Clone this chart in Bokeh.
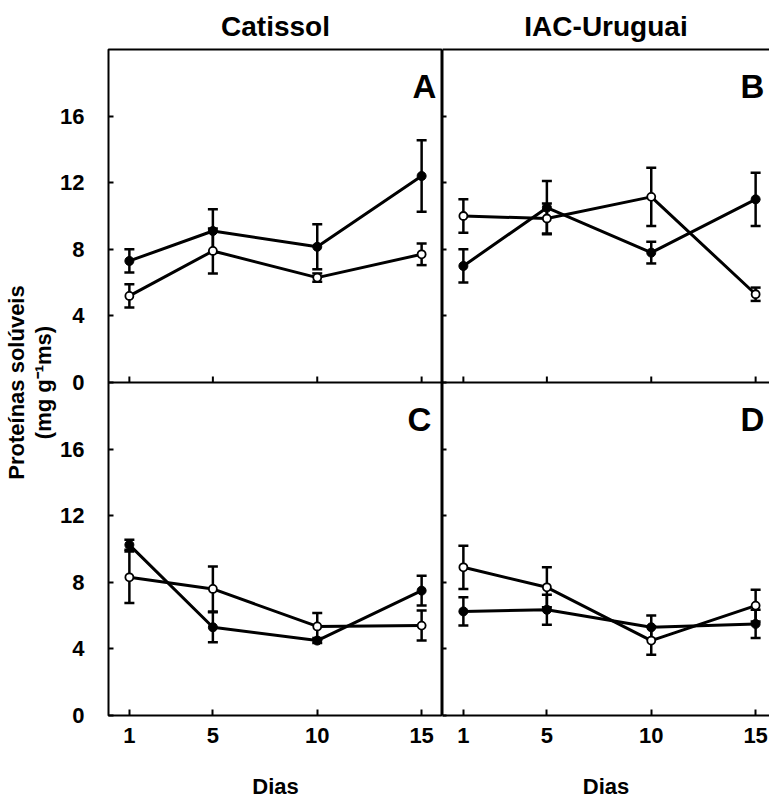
from bokeh.plotting import figure
from bokeh.models import (Range1d, ColumnDataSource, Whisker, TeeHead, Label,
                          LinearAxis, FixedTicker, Title, Span)
from bokeh.layouts import gridplot
from bokeh.embed import file_html
from bokeh.resources import INLINE

# ---------------- data ----------------
days = [1, 5, 10, 15]
x_ticks = [1, 5, 10, 15]
y_ticks = [0, 4, 8, 12, 16]
cultivars = ["Catissol", "IAC-Uruguai"]
panel_letters = ["A", "B", "C", "D"]
y_label = "Proteínas solúveis\n(mg g\u207b\u00b9ms)"
x_label = "Dias"

# Panel A (Catissol, top)
a_closed = [7.3, 9.1, 8.15, 12.4]
a_closed_err = [0.7, 1.3, 1.35, 2.15]
a_open = [5.2, 7.9, 6.3, 7.7]
a_open_err = [0.7, 1.35, 0.25, 0.65]
# Panel B (IAC-Uruguai, top)
b_closed = [7.0, 10.5, 7.8, 11.0]
b_closed_err = [1.0, 1.6, 0.65, 1.6]
b_open = [10.0, 9.85, 11.15, 5.3]
b_open_err = [1.0, 0.9, 1.75, 0.4]
# Panel C (Catissol, bottom)
c_closed = [10.25, 5.3, 4.5, 7.5]
c_closed_err = [0.3, 0.9, 0.15, 0.9]
c_open = [8.3, 7.6, 5.35, 5.4]
c_open_err = [1.55, 1.35, 0.8, 0.9]
# Panel D (IAC-Uruguai, bottom)
d_closed = [6.25, 6.35, 5.3, 5.5]
d_closed_err = [0.85, 0.9, 0.7, 0.85]
d_open = [8.9, 7.7, 4.5, 6.6]
d_open_err = [1.3, 1.2, 0.85, 0.95]

# ---------------- layout constants ----------------
FONT = "Liberation Sans"
FW_L, FW_R, FH = 334, 327, 666
LEFT_B, TOP_B, BOT_B = 99, 41, 85
PANEL_Y = 20            # height of one panel in data units
X_MAX_L = 16
X_MAX_R = 16 * FW_R / FW_L

# one column = two stacked panels; the top panel uses its own range "top"
col_ticks = y_ticks + [t + PANEL_Y for t in y_ticks]
col_labels = {t: str(t) for t in y_ticks}
col_labels.update({t + PANEL_Y: str(t) for t in y_ticks})


def base_axis(axis, ticks, tick_in):
    axis.ticker = FixedTicker(ticks=ticks)
    axis.major_tick_in = tick_in
    axis.major_tick_out = 0
    axis.minor_tick_in = 0
    axis.minor_tick_out = 0
    axis.major_tick_line_width = 2
    axis.major_tick_line_color = "black"
    axis.axis_line_width = 2
    axis.axis_line_color = "black"
    return axis


def hide_labels(axis):
    axis.major_label_text_font_size = "0px"
    axis.major_label_standoff = 0
    axis.major_label_overrides = {t: "" for t in axis.ticker.ticks}
    return axis


def show_labels(axis, standoff):
    axis.major_label_text_font = FONT
    axis.major_label_text_font_style = "bold"
    axis.major_label_text_font_size = "22px"
    axis.major_label_text_color = "black"
    axis.major_label_standoff = standoff
    return axis


def draw_series(p, vals, errs, rng):
    src = ColumnDataSource(dict(x=days, y=vals,
                                lo=[v - e for v, e in zip(vals, errs)],
                                hi=[v + e for v, e in zip(vals, errs)]))
    p.line("x", "y", source=src, line_color="black", line_width=3, y_range_name=rng)
    p.add_layout(Whisker(base="x", lower="lo", upper="hi", source=src,
                         y_range_name=rng, line_color="black", line_width=2.5,
                         upper_head=TeeHead(size=10, line_color="black", line_width=2.5),
                         lower_head=TeeHead(size=10, line_color="black", line_width=2.5)))
    return src


def make_column(col, top_data, bottom_data, letters_x):
    xmax = X_MAX_L if col == 0 else X_MAX_R
    p = figure(frame_width=FW_L if col == 0 else FW_R, frame_height=FH,
               x_range=Range1d(0, xmax), y_range=Range1d(0, 2 * PANEL_Y),
               x_axis_location=None, y_axis_location=None,
               toolbar_location=None, output_backend="svg",
               min_border_left=LEFT_B if col == 0 else 0, min_border_right=0,
               min_border_top=TOP_B, min_border_bottom=BOT_B,
               background_fill_color="white", border_fill_color="white")
    p.extra_y_ranges = {"top": Range1d(-PANEL_Y, PANEL_Y)}
    p.xgrid.visible = False
    p.ygrid.visible = False
    p.outline_line_color = "black" if col == 0 else None
    p.outline_line_width = 2

    # y axis (both panels)
    yax = base_axis(LinearAxis(), col_ticks, 5 if col == 0 else 4)
    if col == 0:
        show_labels(yax, 24)
        yax.major_label_text_align = "right"
        yax.major_label_overrides = col_labels
        yax.axis_line_color = None
        yax.axis_label = y_label
        yax.axis_label_text_font = FONT
        yax.axis_label_text_font_style = "bold"
        yax.axis_label_text_font_size = "22px"
        yax.axis_label_text_line_height = 1.1
        yax.axis_label_text_color = "black"
        yax.axis_label_standoff = 1
    else:
        hide_labels(yax)
    p.add_layout(yax, "left")

    # bottom x axis
    xax = show_labels(base_axis(LinearAxis(), x_ticks, 6), 12)
    xax.axis_line_color = "black" if col == 1 else None
    xax.axis_label = x_label
    xax.axis_label_text_font = FONT
    xax.axis_label_text_font_style = "bold"
    xax.axis_label_text_font_size = "22px"
    xax.axis_label_text_color = "black"
    xax.axis_label_standoff = 28
    p.add_layout(xax, "below")

    if col == 1:
        top_ax = hide_labels(base_axis(LinearAxis(), [], 0))
        p.add_layout(top_ax, "above")

    # line between the two panels, with the top panel's inward ticks
    p.add_layout(Span(location=0, dimension="width", y_range_name="top",
                      line_color="black", line_width=2))
    p.segment(x0=x_ticks, x1=x_ticks, y0=[0] * len(x_ticks),
              y1=[0.36] * len(x_ticks), y_range_name="top",
              line_color="black", line_width=2)

    p.add_layout(Title(text=cultivars[col], align="center", text_font=FONT,
                       text_font_style="bold", text_font_size="28px",
                       text_color="black", standoff=16,
                       offset=(4 if col == 1 else 0)), "above")

    for (closed, closed_err, opn, opn_err), rng, letter, lx in (
            (top_data, "top", letters_x[0][0], letters_x[0][1]),
            (bottom_data, "default", letters_x[1][0], letters_x[1][1])):
        sc = draw_series(p, closed, closed_err, rng)
        so = draw_series(p, opn, opn_err, rng)
        p.scatter("x", "y", source=sc, size=9, fill_color="black",
                  line_color="black", line_width=1, y_range_name=rng)
        p.scatter("x", "y", source=so, size=8, fill_color="white",
                  line_color="black", line_width=1.8, y_range_name=rng)
        p.add_layout(Label(x=lx, y=17.8, text=letter, text_align="right",
                           text_baseline="alphabetic", text_font=FONT,
                           text_font_style="bold", text_font_size="33px",
                           text_color="black", y_range_name=rng))
    return p


left = make_column(0, (a_closed, a_closed_err, a_open, a_open_err),
                   (c_closed, c_closed_err, c_open, c_open_err),
                   ((panel_letters[0], 15.71), (panel_letters[2], 15.47)))
right = make_column(1, (b_closed, b_closed_err, b_open, b_open_err),
                    (d_closed, d_closed_err, d_open, d_open_err),
                    ((panel_letters[1], 15.42), (panel_letters[3], 15.42)))

grid = gridplot([[left, right]], toolbar_location=None)
open("out.html", "w").write(file_html(grid, INLINE))
